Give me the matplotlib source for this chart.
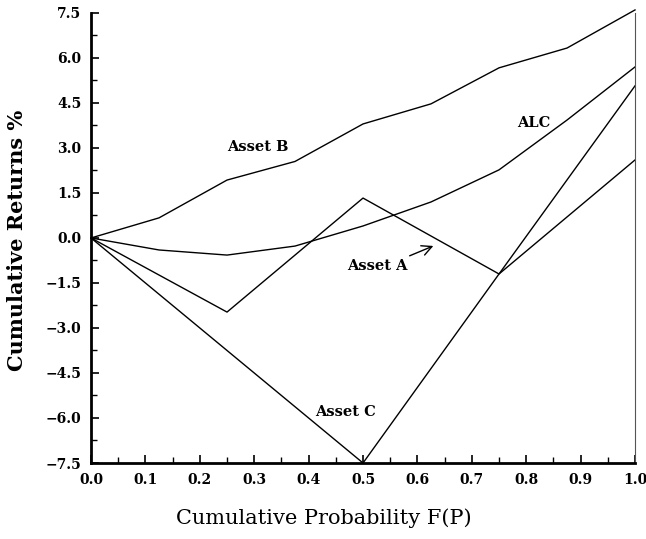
import matplotlib
matplotlib.use("Agg")
import matplotlib.pyplot as plt
from matplotlib.ticker import MultipleLocator, FuncFormatter

prob = [0.0, 0.125, 0.25, 0.375, 0.5, 0.625, 0.75, 0.875, 1.0]
asset_b = [0.0, 0.67, 1.93, 2.55, 3.8, 4.47, 5.67, 6.33, 7.6]
alc = [0.0, -0.4, -0.57, -0.27, 0.4, 1.2, 2.27, 3.93, 5.7]
asset_a_x = [0.0, 0.25, 0.5, 0.75, 1.0]
asset_a = [0.0, -2.47, 1.33, -1.2, 2.6]
asset_c_x = [0.0, 0.5, 0.75, 1.0]
asset_c = [0.0, -7.5, -1.2, 5.07]

fig = plt.figure(figsize=(6.46, 5.39), dpi=100)
ax = fig.add_axes([0.1409, 0.141, 0.983 - 0.1409, 0.976 - 0.141])

for xs, ys in [(prob, asset_b), (prob, alc), (asset_a_x, asset_a), (asset_c_x, asset_c)]:
    ax.plot(xs, ys, color="black", lw=1.0, clip_on=False)

ax.set_xlim(0, 1.0)
ax.set_ylim(-7.5, 7.5)
ax.xaxis.set_major_locator(MultipleLocator(0.1))
ax.xaxis.set_minor_locator(MultipleLocator(0.05))
ax.yaxis.set_major_locator(MultipleLocator(1.5))
ax.yaxis.set_minor_locator(MultipleLocator(0.75))
fmt = FuncFormatter(lambda v, pos: ("%.1f" % v).replace("-", "\u2212"))
ax.xaxis.set_major_formatter(fmt)
ax.yaxis.set_major_formatter(fmt)

ax.spines["top"].set_visible(False)
ax.spines["left"].set_linewidth(2.0)
ax.spines["bottom"].set_linewidth(2.0)
ax.spines["right"].set_linewidth(0.8)
ax.spines["right"].set_color("#555555")

ax.tick_params(which="major", direction="in", length=6, width=1.2, top=False, right=False,
               labelsize=10, pad=7)
ax.tick_params(which="minor", direction="in", length=4, width=1.0, top=False, right=False)
for lab in ax.get_xticklabels() + ax.get_yticklabels():
    lab.set_fontfamily("DejaVu Serif")
    lab.set_fontweight("bold")

tfont = dict(family="DejaVu Serif", fontweight="bold", fontsize=10.5, ha="center", va="center")
ax.text(0.307, 3.03, "Asset B", **tfont)
ax.text(0.814, 3.83, "ALC", **tfont)
ax.text(0.526, -0.93, "Asset A", **tfont)
ax.text(0.467, -5.8, "Asset C", **tfont)
ax.annotate("", xy=(0.634, -0.23), xytext=(0.581, -0.63),
            arrowprops=dict(arrowstyle="->", color="black", lw=1.0, mutation_scale=18))

fig.text(0.5 * (172 + 475) / 646, 1 - 518 / 539, "Cumulative Probability F(P)",
         family="DejaVu Serif", fontsize=15, ha="center", va="center")
fig.text(17 / 646, 1 - 240 / 539, "Cumulative Returns %", rotation=90,
         family="DejaVu Serif", fontweight="bold", fontsize=15, ha="center", va="center")

fig.savefig("out.png", dpi=100)
